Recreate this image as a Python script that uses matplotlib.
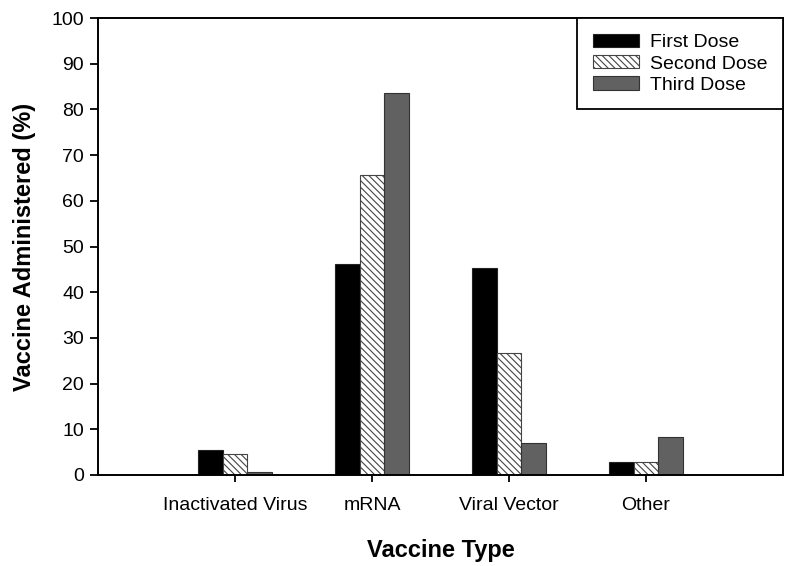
import matplotlib
matplotlib.use("Agg")
import matplotlib.pyplot as plt
import numpy as np

plt.rcParams['font.family'] = ['Liberation Sans', 'DejaVu Sans']
plt.rcParams['hatch.color'] = '#555555'
plt.rcParams['hatch.linewidth'] = 0.8

# data
categories = ['Inactivated Virus', 'mRNA', 'Viral Vector', 'Other']
first_dose = [5.5, 46.2, 45.2, 2.8]
second_dose = [4.6, 65.6, 26.6, 2.8]
third_dose = [0.7, 83.6, 7.0, 8.3]
series_names = ['First Dose', 'Second Dose', 'Third Dose']

fig = plt.figure(figsize=(7.92, 5.66), dpi=100)
ax = fig.add_axes([0.1237, 0.1608, 0.8649, 0.8072])

x = np.arange(1, len(categories) + 1)
w = 0.18

ax.bar(x - w, first_dose, w, color='black', edgecolor='#222222', linewidth=0.8, label=series_names[0])
ax.bar(x, second_dose, w, color='white', edgecolor='#444444', linewidth=0.8, hatch='\\' * 5, label=series_names[1])
ax.bar(x + w, third_dose, w, color='#616161', edgecolor='#333333', linewidth=0.8, label=series_names[2])

ax.set_xlim(0, 5)
ax.set_ylim(0, 100)
ax.set_yticks(np.arange(0, 101, 10))
ax.set_xticks(x)
ax.set_xticklabels(categories)

for s in ax.spines.values():
    s.set_linewidth(1.4)
ax.tick_params(axis='y', direction='out', length=6, width=1.3, labelsize=14, pad=4)
ax.tick_params(axis='x', direction='out', length=5, width=1.3, labelsize=14, pad=11)

ax.set_xlabel('Vaccine Type', fontsize=17, fontweight='bold', labelpad=18)
ax.set_ylabel('Vaccine Administered (%)', fontsize=17, fontweight='bold', labelpad=11)

leg = ax.legend(loc='upper right', borderaxespad=0, fancybox=False, edgecolor='black',
                fontsize=14, handlelength=2.4, handleheight=0.68, handletextpad=0.55,
                labelspacing=0.2, borderpad=0.8, framealpha=1)
leg.get_frame().set_linewidth(1.3)

fig.savefig('out.png', dpi=100)
